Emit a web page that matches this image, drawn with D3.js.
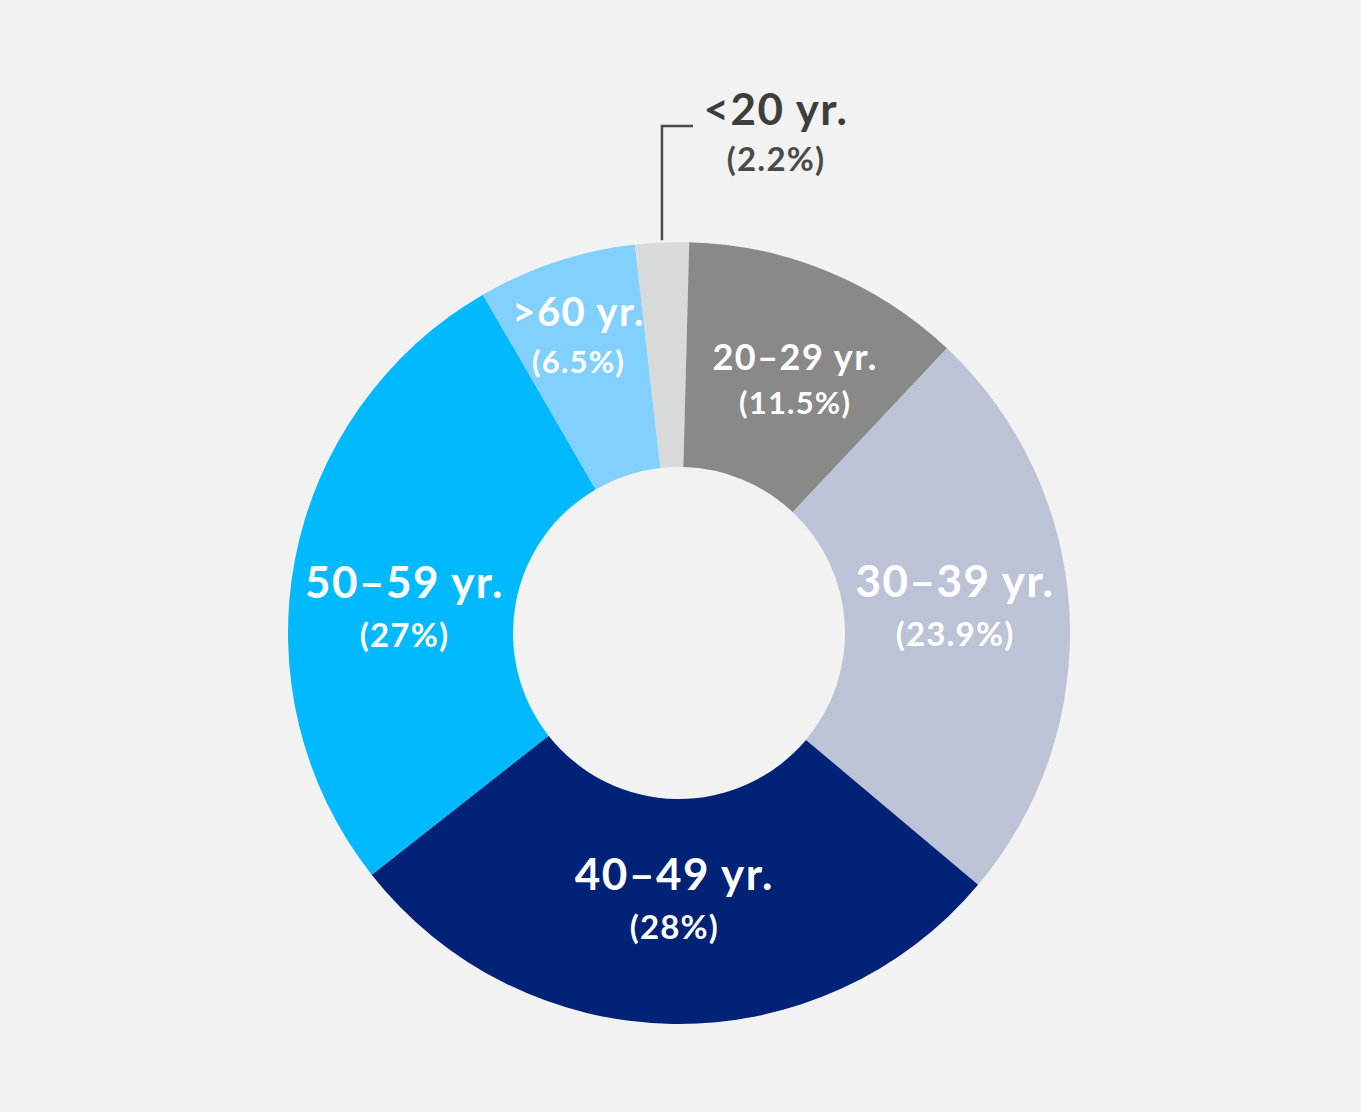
<!DOCTYPE html>
<html>
<head>
<meta charset="utf-8">
<script src="https://cdn.jsdelivr.net/npm/d3@7"></script>
<style>
  html, body { margin: 0; padding: 0; background: #f1f2f1; }
  svg { display: block; }
  text { font-family: Lato, "Noto Sans", sans-serif; }
</style>
</head>
<body>
<div id="chart"></div>
<script>
// age groups, clockwise from the top
const ageGroups = ["<20 yr.", "20–29 yr.", "30–39 yr.", "40–49 yr.", "50–59 yr.", ">60 yr."];
const shares = [2.2, 11.5, 23.9, 28, 27, 6.5];
const shareLabels = ["(2.2%)", "(11.5%)", "(23.9%)", "(28%)", "(27%)", "(6.5%)"];

const colors = ["#d8d9d9", "#898a88", "#bcc3d6", "#002277", "#00b9fe", "#81d0fe"];
// label tweaks relative to the arc centroid [dx, dy], and font sizes
const nudge = [[0, 0], [10, 0], [-2, -10], [0, -11], [-1, 27], [-13, -35]];
const nameSize = [44, 36, 44, 44, 44, 40];
const pctSize = [33, 31, 33, 33, 33, 31];

const width = 1361, height = 1112;
const cx = 679, cy = 633;
const outerR = 391, innerR = 166;

const svg = d3.select("#chart").append("svg")
  .attr("width", width)
  .attr("height", height);

svg.append("rect")
  .attr("width", width)
  .attr("height", height)
  .attr("fill", "#f1f2f1");

const data = ageGroups.map((name, i) => ({ name: name, value: shares[i], pct: shareLabels[i], i: i }));

const total = d3.sum(shares);
const startDeg = 1.5 - shares[0] / total * 360;

const pie = d3.pie()
  .value(d => d.value)
  .sort(null)
  .startAngle(startDeg * Math.PI / 180)
  .endAngle((startDeg + 360) * Math.PI / 180);

const arc = d3.arc()
  .innerRadius(innerR)
  .outerRadius(outerR);

const g = svg.append("g")
  .attr("transform", `translate(${cx},${cy})`);

const arcs = pie(data);

g.selectAll("path.slice")
  .data(arcs)
  .enter().append("path")
  .attr("class", "slice")
  .attr("d", arc)
  .attr("fill", d => colors[d.data.i]);

// inside labels
const inside = arcs.filter(d => d.data.i !== 0);

const lbl = g.selectAll("g.lbl")
  .data(inside)
  .enter().append("g")
  .attr("class", "lbl")
  .attr("transform", d => {
    const c = arc.centroid(d);
    const n = nudge[d.data.i];
    return `translate(${c[0] + n[0]},${c[1] + n[1]})`;
  });

lbl.append("text")
  .attr("text-anchor", "middle")
  .attr("y", d => -10 + (44 - nameSize[d.data.i]) * 0.6)
  .attr("fill", "#fff")
  .attr("font-weight", 700)
  .attr("letter-spacing", 1.5)
  .attr("font-size", d => nameSize[d.data.i])
  .text(d => d.data.name);

lbl.append("text")
  .attr("text-anchor", "middle")
  .attr("y", 39)
  .attr("fill", "#fff")
  .attr("font-weight", 700)
  .attr("letter-spacing", 1.2)
  .attr("font-size", d => pctSize[d.data.i])
  .text(d => d.data.pct);

// the small slice gets a leader line and an outside label
const small = arcs[0];
const mid = (small.startAngle + small.endAngle) / 2;
const px = outerR * Math.sin(mid);
const py = -outerR * Math.cos(mid);
const elbowY = -507;

g.append("path")
  .attr("d", d3.line()([[px, py - 2], [px, elbowY], [px + 31, elbowY]]))
  .attr("fill", "none")
  .attr("stroke", "#4a4a4a")
  .attr("stroke-width", 2.5);

g.append("text")
  .attr("x", 97)
  .attr("y", elbowY - 1)
  .attr("text-anchor", "middle")
  .attr("fill", "#3d3d3c")
  .attr("font-weight", 700)
  .attr("letter-spacing", 1.5)
  .attr("font-size", nameSize[0])
  .text(small.data.name);

g.append("text")
  .attr("x", 97)
  .attr("y", elbowY + 45)
  .attr("text-anchor", "middle")
  .attr("fill", "#4a4a49")
  .attr("font-weight", 700)
  .attr("letter-spacing", 1.2)
  .attr("font-size", pctSize[0])
  .text(small.data.pct);
</script>
</body>
</html>
